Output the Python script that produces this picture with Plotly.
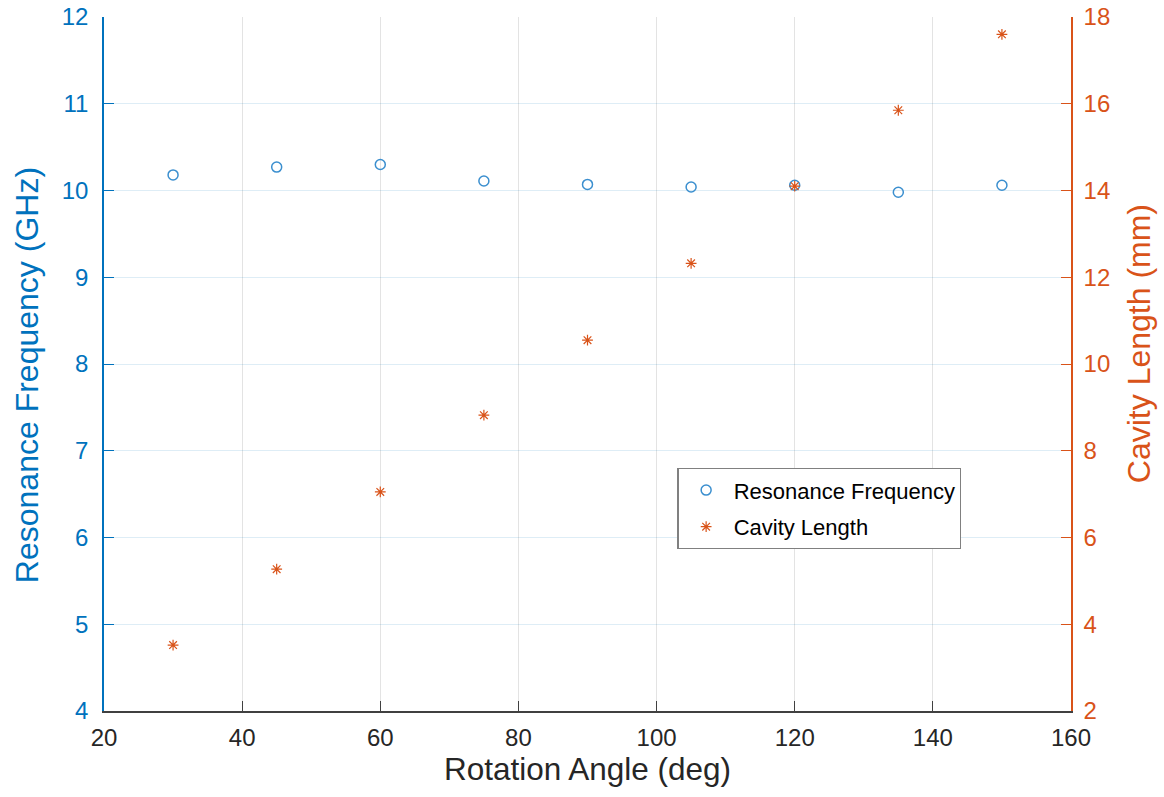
import plotly.graph_objects as go

angles = [30, 45, 60, 75, 90, 105, 120, 135, 150]
res_freq = [10.18, 10.27, 10.30, 10.11, 10.07, 10.04, 10.06, 9.98, 10.06]
cavity_len = [3.52, 5.27, 7.05, 8.82, 10.55, 12.32, 14.10, 15.85, 17.60]

BLUE = "#0072BD"
ORANGE = "#D95319"
FONT = "Liberation Sans, Arial, sans-serif"

fig = go.Figure()
fig.add_trace(go.Scatter(
    x=angles, y=res_freq, mode="markers", name="Resonance Frequency",
    legendgroup="a",
    marker=dict(symbol="circle-open", size=10, color="#3B8FCF", line=dict(width=1.5)),
    yaxis="y"))
fig.add_trace(go.Scatter(
    x=angles, y=cavity_len, mode="markers", name="Cavity Length",
    legendgroup="b",
    marker=dict(symbol="asterisk-open", size=9, color=ORANGE, line=dict(width=1.2, color=ORANGE)),
    yaxis="y2"))

fig.update_layout(
    width=1164, height=797,
    margin=dict(l=104, r=93, t=17, b=86),
    plot_bgcolor="white", paper_bgcolor="white",
    font=dict(family=FONT, size=24, color="#262626"),
    xaxis=dict(
        range=[20, 160], dtick=20, tick0=20, automargin=False,
        ticks="inside", ticklen=10, tickcolor="#404040",
        showline=True, linecolor="#404040", linewidth=1.5, mirror=False,
        showgrid=True, gridcolor="rgba(38,38,38,0.13)", gridwidth=1,
        zeroline=False, ticklabelstandoff=4,
        tickfont=dict(size=24, color="#262626"),
        title=dict(text="Rotation Angle (deg)", font=dict(size=31.5, color="#262626"), standoff=8),
    ),
    yaxis=dict(
        range=[4, 12], dtick=1, automargin=False,
        ticks="inside", ticklen=10, tickcolor=BLUE,
        showline=True, linecolor=BLUE, linewidth=1.5,
        showgrid=True, gridcolor="rgba(0,114,189,0.13)", gridwidth=1,
        zeroline=False, ticklabelstandoff=9,
        tickfont=dict(size=24, color=BLUE),
    ),
    yaxis2=dict(
        range=[2, 18], dtick=2, overlaying="y", side="right", automargin=False,
        ticks="inside", ticklen=10, tickcolor=ORANGE,
        showline=True, linecolor=ORANGE, linewidth=1.5,
        showgrid=False, zeroline=False, ticklabelstandoff=6,
        tickfont=dict(size=24, color=ORANGE),
    ),
    legend=dict(
        x=0.593, y=0.35, xanchor="left", yanchor="top",
        bgcolor="white", bordercolor="#808080", borderwidth=1.2,
        font=dict(size=22, color="#000000"),
        itemwidth=45, tracegroupgap=5,
    ),
    showlegend=True,
    annotations=[
        dict(text="Resonance Frequency (GHz)", xref="paper", yref="paper",
             x=-0.0796, y=0.484, xanchor="center", yanchor="middle",
             textangle=-90, showarrow=False, font=dict(size=32, color=BLUE)),
        dict(text="Cavity Length (mm)", xref="paper", yref="paper",
             x=1.0703, y=0.530, xanchor="center", yanchor="middle",
             textangle=-90, showarrow=False, font=dict(size=32, color=ORANGE)),
    ],
)

fig.write_html("out.html")
